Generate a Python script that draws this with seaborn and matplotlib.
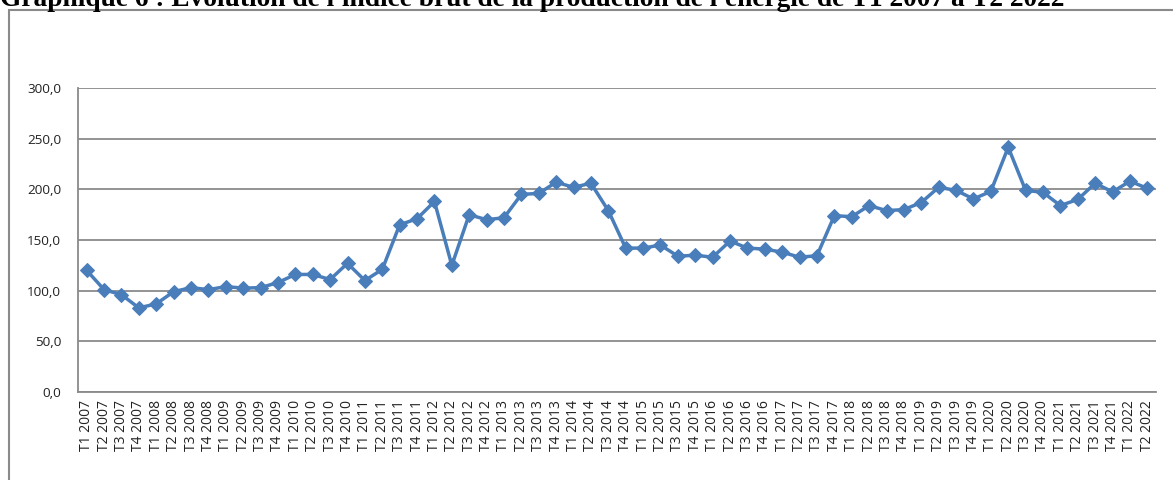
import matplotlib
matplotlib.use("Agg")
import matplotlib.pyplot as plt
import seaborn as sns
import pandas as pd
from matplotlib.patches import Rectangle

quarters = ["T1", "T2", "T3", "T4"]
years = list(range(2007, 2023))
labels = [f"{q} {y}" for y in years for q in quarters][:62]

values = [120, 101, 96, 83, 87, 99, 103, 101, 104, 102.5, 103, 108,
          116, 116, 111, 127, 110, 121, 165, 171, 188, 125,
          175, 170, 172, 195, 196, 207, 202, 206, 179, 142,
          142, 145, 134, 135, 133, 149, 142, 141, 138, 133,
          134.5, 174, 173, 184, 179, 180, 187, 202, 199, 190.5,
          198, 241.5, 199, 197, 184, 190, 206, 197.5, 208, 201]

yticks = [0, 50, 100, 150, 200, 250, 300]
ytick_labels = ["0,0", "50,0", "100,0", "150,0", "200,0", "250,0", "300,0"]

title = "Graphique 6 : Evolution de l'indice brut de la production de l'énergie de T1 2007 à T2 2022"

df = pd.DataFrame({"pos": range(len(values)), "val": values})

sns.set_style("white")
fig = plt.figure(figsize=(11.73, 4.8), dpi=100)
ax = fig.add_axes([78/1173, 1-392/480, (1156-78)/1173, (392-88)/480])

for y in yticks:
    ax.axhline(y, color="#8a8a8a", lw=1.3, zorder=1)

sns.lineplot(data=df, x="pos", y="val", ax=ax, color="#4A7EBB", lw=2.5,
             marker="D", markersize=7.5, markeredgecolor="#4A7EBB",
             zorder=3)

ax.set_xlim(-0.5, len(values) - 0.5)
ax.set_ylim(0, 300)
ax.set_yticks(yticks)
ax.set_yticklabels(ytick_labels, fontsize=9.7, family="Open Sans", color="#222222")
ax.set_xticks(range(len(labels)))
ax.set_xticklabels(labels, rotation=90, fontsize=10, family="Open Sans", color="#222222")
ax.tick_params(axis="both", length=0, pad=6)
ax.tick_params(axis="y", pad=12)
ax.set_xlabel("")
ax.set_ylabel("")
for s in ["top", "right"]:
    ax.spines[s].set_visible(False)
ax.spines["left"].set_color("#8a8a8a")
ax.spines["bottom"].set_color("#8a8a8a")
ax.spines["left"].set_linewidth(1.3)
ax.spines["bottom"].set_linewidth(1.3)

border = Rectangle((9/1173, -0.1), 1.2, 1.1 - 10/480, transform=fig.transFigure,
                   fill=False, edgecolor="#8a8a8a", lw=1.5, clip_on=False)
fig.patches.append(border)

fig.text(0.0, 1 - 6/480, title, fontsize=19.7, fontweight="bold",
         family="Liberation Serif", ha="left", va="baseline", color="black")

fig.savefig("out.png", dpi=100, facecolor="white")
